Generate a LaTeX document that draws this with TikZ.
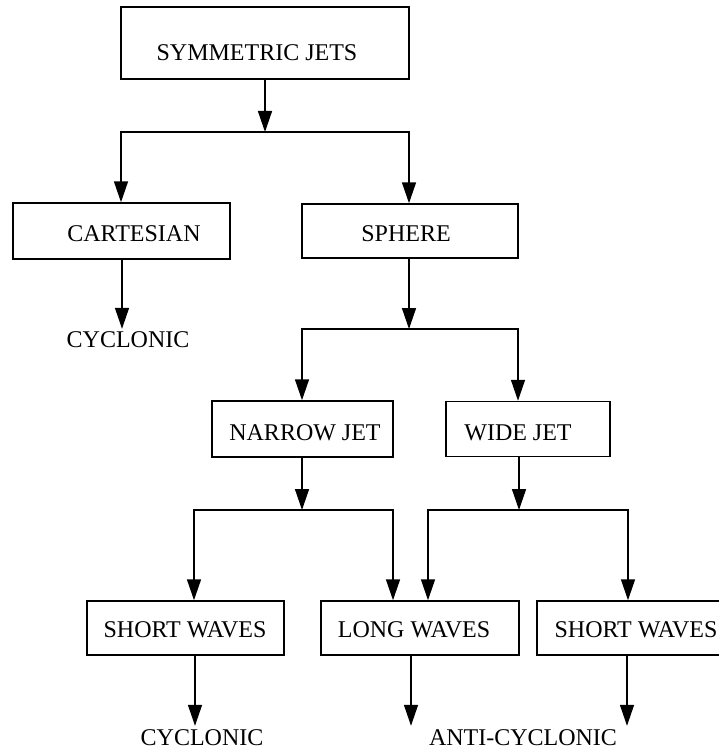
\documentclass[tikz,border=0pt]{standalone}
\usepackage{fontspec}
\setmainfont{Liberation Serif}
\usetikzlibrary{arrows.meta}
\begin{document}
\begin{tikzpicture}[x=1pt,y=-1pt,
  box/.style={draw, line width=1.5pt, rectangle, inner sep=0pt},
  lbl/.style={inner sep=0pt, text height=16pt, text depth=0pt, font=\fontsize{24}{28}\selectfont},
  conn/.style={line width=1.5pt},
  arr/.style={conn, -{Triangle[length=21pt,width=14pt]}}]
\useasboundingbox (0,0) rectangle (718,749);
% boxes
\node[box, minimum width=288pt, minimum height=72pt] (sj) at (265,43) {};
\node[lbl] (sjt) at (257,53) {SYMMETRIC JETS};
\node[box, minimum width=217pt, minimum height=56pt] (cart) at (121.5,231) {};
\node[lbl] (cartt) at (134,233) {CARTESIAN};
\node[box, minimum width=216pt, minimum height=54pt] (sph) at (410,231) {};
\node[lbl] (spht) at (406,233) {SPHERE};
\node[box, minimum width=181pt, minimum height=56pt] (nj) at (302.5,429) {};
\node[lbl] (njt) at (305,432) {NARROW JET};
\node[box, minimum width=164pt, minimum height=55pt] (wj) at (528,429) {};
\node[lbl] (wjt) at (518,432) {WIDE JET};
\node[box, minimum width=197pt, minimum height=54pt] (sw1) at (185.5,628) {};
\node[lbl] (sw1t) at (185,629) {SHORT WAVES};
\node[box, minimum width=198pt, minimum height=54pt] (lw) at (420,628) {};
\node[lbl] (lwt) at (414,629) {LONG WAVES};
\node[box, minimum width=197pt, minimum height=54pt] (sw2) at (635.5,628) {};
\node[lbl] (sw2t) at (636,629) {SHORT WAVES};
% outcome labels
\node[lbl] (cyc1) at (128,339) {CYCLONIC};
\node[lbl] (cyc2) at (202,737) {CYCLONIC};
\node[lbl] (acyc) at (523,737) {ANTI-CYCLONIC};
% junctions
\coordinate (j1) at (265,132);
\coordinate (j2) at (409,329);
\coordinate (j3) at (302,510);
\coordinate (j4) at (519,510);
% connectors
\draw[arr] (sj.south) -- (j1);
\draw[arr] (j1) -| ([xshift=-0.5pt]cart.north);
\draw[arr] (j1) -| ([xshift=-1pt]sph.north);
\draw[arr, shorten >=2pt] ([xshift=0.5pt]cart.south) -- ([xshift=0.5pt]cart.south |- cyc1.north);
\draw[arr] (j2 |- sph.south) -- (j2);
\draw[arr] (j2) -| ([xshift=-0.5pt]nj.north);
\draw[arr] (j2) -| ([xshift=-10pt]wj.north);
\draw[arr] (j3 |- nj.south) -- (j3);
\draw[arr] (j3) -| ([xshift=8.5pt]sw1.north);
\draw[arr] (j3) -| ([xshift=-27pt]lw.north);
\draw[arr] (j4 |- wj.south) -- (j4);
\draw[arr] (j4) -| ([xshift=8pt]lw.north);
\draw[arr] (j4) -| ([xshift=-7.5pt]sw2.north);
\draw[arr, shorten >=3pt] ([xshift=9.5pt]sw1.south) -- ([xshift=9.5pt]sw1.south |- cyc2.north);
\draw[arr, shorten >=3pt] ([xshift=-9pt]lw.south) -- ([xshift=-9pt]lw.south |- acyc.north);
\draw[arr, shorten >=3pt] ([xshift=-8.5pt]sw2.south) -- ([xshift=-8.5pt]sw2.south |- acyc.north);
\end{tikzpicture}
\end{document}
